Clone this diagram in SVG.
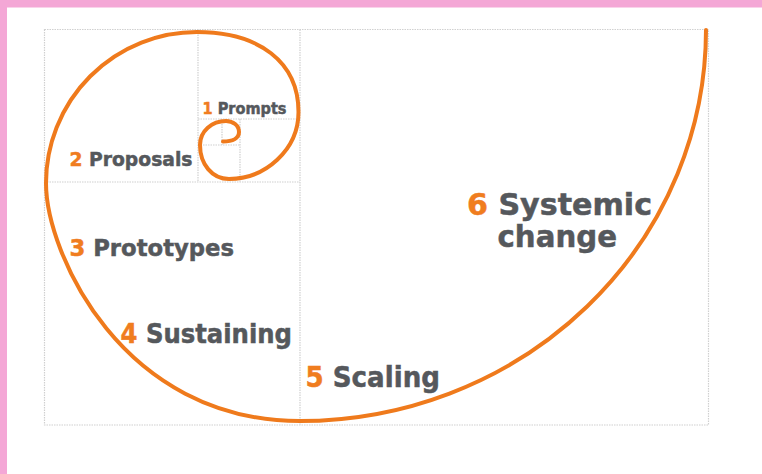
<svg xmlns="http://www.w3.org/2000/svg" width="762" height="474" viewBox="0 0 762 474">
  <style>
    .grid { fill: none; stroke: #d0d0d0; stroke-width: 1.2; stroke-dasharray: 1.5 1; }
    .spiral { fill: none; stroke: #ef7a1c; stroke-width: 4; stroke-linecap: round; stroke-linejoin: round; }
    .label { font-family: "DejaVu Sans", "Liberation Sans", sans-serif; font-weight: bold; fill: #55585c; stroke: #55585c; stroke-width: 0.5; }
    .num { fill: #f07d1f; stroke: #f07d1f; }
  </style>

  <!-- page background and pink frame -->
  <rect x="0" y="0" width="762" height="474" fill="#ffffff"/>
  <rect x="0" y="0" width="762" height="7.5" fill="#f4a7d6"/>
  <rect x="0" y="0" width="7" height="474" fill="#f4a7d6"/>

  <!-- golden-rectangle subdivision -->
  <g id="grid" class="grid">
    <rect x="44.5" y="29.5" width="664" height="395.5"/>
    <line x1="300" y1="29.5" x2="300" y2="425"/>
    <line x1="44.5" y1="182" x2="300" y2="182"/>
    <line x1="198" y1="29.5" x2="198" y2="182"/>
    <line x1="198" y1="119" x2="300" y2="119"/>
    <line x1="240" y1="119" x2="240" y2="182"/>
    <line x1="198" y1="145" x2="240" y2="145"/>
    <line x1="222" y1="119" x2="222" y2="145"/>
  </g>

  <!-- spiral, drawn from the inner curl outwards -->
  <g id="connectors">
    <path class="spiral" d="M223,141.5
      C233,141.5 239,138 239,132
      C239,125.5 233,121 226,121
      C212,121 200,131 200,145
      C200,164 212,179 229,179
      C265,179 298.5,150 298.5,112
      C298.5,62 259,32 197,32
      A151,151 0 0 0 46,183
      C46,253 122,421 300,421
      A406,391 0 0 0 706,30"/>
  </g>

  <!-- stage labels -->
  <g id="stage-1">
    <text class="label" x="202.5" y="113.5" font-size="15.5" textLength="84" lengthAdjust="spacingAndGlyphs"><tspan class="num">1</tspan> Prompts</text>
  </g>
  <g id="stage-2">
    <text class="label" x="69.5" y="165.5" font-size="19.5" textLength="123" lengthAdjust="spacingAndGlyphs"><tspan class="num">2</tspan> Proposals</text>
  </g>
  <g id="stage-3">
    <text class="label" x="69.5" y="256" font-size="23.5" textLength="164.5" lengthAdjust="spacingAndGlyphs"><tspan class="num">3</tspan> Prototypes</text>
  </g>
  <g id="stage-4">
    <text class="label" x="120.5" y="343" font-size="26" textLength="171.5" lengthAdjust="spacingAndGlyphs"><tspan class="num">4</tspan> Sustaining</text>
  </g>
  <g id="stage-5">
    <text class="label" x="305.5" y="386.7" font-size="27.5" textLength="134.5" lengthAdjust="spacingAndGlyphs"><tspan class="num">5</tspan> Scaling</text>
  </g>
  <g id="stage-6">
    <text class="label" x="467" y="215" font-size="30.5" textLength="185" lengthAdjust="spacingAndGlyphs"><tspan class="num">6</tspan> Systemic</text>
    <text class="label" x="497.5" y="246.7" font-size="30" textLength="119.5" lengthAdjust="spacingAndGlyphs">change</text>
  </g>
</svg>
